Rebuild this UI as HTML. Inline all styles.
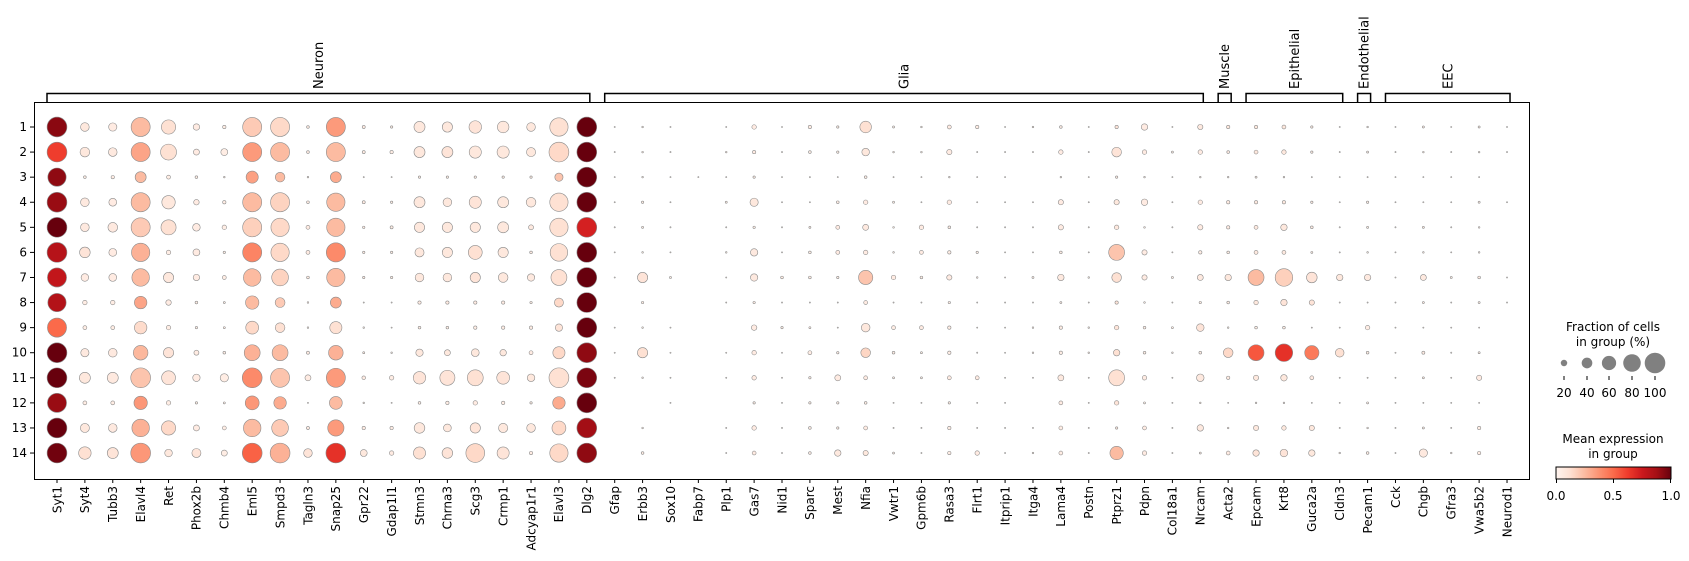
<!DOCTYPE html>
<html><head><meta charset="utf-8"><style>
html,body{margin:0;padding:0;background:#fff;}
svg{display:block;font-family:"DejaVu Sans","Liberation Sans",sans-serif;}
</style></head><body>
<svg id="chart" width="1689" height="561" viewBox="0 0 1689 561" xmlns="http://www.w3.org/2000/svg">
<defs><linearGradient id="reds" x1="0" x2="1" y1="0" y2="0">
<stop offset="0" stop-color="#fff5f0"/><stop offset="0.125" stop-color="#fee0d2"/><stop offset="0.25" stop-color="#fcbba1"/><stop offset="0.375" stop-color="#fc9272"/><stop offset="0.5" stop-color="#fb6a4a"/><stop offset="0.625" stop-color="#ef3b2c"/><stop offset="0.75" stop-color="#cb181d"/><stop offset="0.875" stop-color="#a50f15"/><stop offset="1" stop-color="#67000d"/></linearGradient></defs>
<g id="plot"></g>
<g id="legend">
<text x="1613" y="331" font-size="12" text-anchor="middle">Fraction of cells</text>
<text x="1613" y="346" font-size="12" text-anchor="middle">in group (%)</text>
<text x="1613" y="443" font-size="12" text-anchor="middle">Mean expression</text>
<text x="1613" y="458" font-size="12" text-anchor="middle">in group</text>
<rect x="1556" y="467" width="115" height="12" fill="url(#reds)" stroke="#000" stroke-width="1"/>
<g font-size="12" text-anchor="middle">
<line x1="1556.5" y1="479" x2="1556.5" y2="483" stroke="#000"/><text x="1556" y="500">0.0</text>
<line x1="1613.5" y1="479" x2="1613.5" y2="483" stroke="#000"/><text x="1613" y="500">0.5</text>
<line x1="1670.5" y1="479" x2="1670.5" y2="483" stroke="#000"/><text x="1671" y="500">1.0</text>
</g>
<g id="sizeLegend"></g>
</g>
</svg>
<script>
const groups = ["1","2","3","4","5","6","7","8","9","10","11","12","13","14"];
const genes = ["Syt1","Syt4","Tubb3","Elavl4","Ret","Phox2b","Chmb4","Eml5","Smpd3","Tagln3","Snap25","Gpr22","Gdap1l1","Stmn3","Chrna3","Scg3","Crmp1","Adcyap1r1","Elavl3","Dlg2","Gfap","Erbb3","Sox10","Fabp7","Plp1","Gas7","Nid1","Sparc","Mest","Nfia","Vwtr1","Gpm6b","Rasa3","Flrt1","Itprip1","Itga4","Lama4","Postn","Ptprz1","Pdpn","Col18a1","Nrcam","Acta2","Epcam","Krt8","Guca2a","Cldn3","Pecam1","Cck","Chgb","Gfra3","Vwa5b2","Neurod1"];
const geneGroupNames = ["Neuron","Glia","Muscle","Epithelial","Endothelial","EEC"];
const geneGroupStart = [0,20,42,43,47,48];
const geneGroupEnd = [19,41,42,46,47,52];
const sizeLegendValues = [20,40,60,80,100];
// fraction of cells (0-1), one array per gene, rows = groups 1..14
const fraction = [
[.95,.95,.85,.95,.95,.95,.9,.85,.9,.95,.95,.9,.95,.95],
[.3,.35,.06,.3,.3,.4,.25,.12,.1,.28,.42,.1,.32,.5],
[.28,.3,.08,.26,.35,.26,.26,.12,.1,.3,.42,.1,.3,.42],
[.9,.9,.42,.9,.9,.85,.8,.5,.5,.62,.95,.55,.8,.95],
[.6,.7,.1,.55,.65,.12,.38,.16,.12,.38,.58,.12,.6,.25],
[.2,.18,.06,.16,.25,.22,.2,.06,.05,.14,.24,.05,.18,.32],
[.08,.22,.03,.08,.12,.05,.1,.04,.04,.06,.28,.04,.1,.18],
[.9,.9,.48,.9,.9,.9,.8,.55,.52,.7,.95,.58,.8,.95],
[.9,.9,.35,.9,.85,.85,.75,.36,.35,.7,.9,.5,.75,.95],
[.06,.06,.03,.06,.1,.1,.06,.03,.03,.07,.18,.01,.07,.3],
[.9,.9,.42,.85,.85,.9,.85,.42,.48,.62,.9,.52,.72,.95],
[.07,.07,.02,.07,.05,.05,.05,.02,.03,.04,.09,.03,.08,.22],
[.05,.08,.01,.05,.07,.05,.05,.01,.01,.03,.12,.02,.08,.12],
[.42,.42,.05,.42,.38,.32,.3,.08,.06,.24,.5,.06,.4,.48],
[.38,.42,.05,.3,.38,.38,.3,.08,.06,.18,.65,.08,.26,.4],
[.5,.48,.05,.48,.38,.58,.38,.08,.08,.26,.7,.12,.38,.88],
[.45,.48,.05,.42,.42,.38,.35,.08,.08,.2,.52,.08,.33,.48],
[.3,.32,.05,.35,.14,.06,.24,.05,.08,.1,.25,.05,.3,.08],
[.85,.95,.28,.85,.85,.8,.7,.32,.24,.48,.95,.5,.58,.85],
[.95,.95,.95,.95,.95,.95,.95,.95,.95,.95,.95,.95,.95,.95],
[.005,.005,.005,.005,.01,.01,.005,0,.01,.01,.02,0,0,0],
[.03,.03,.03,.05,.04,.03,.38,.05,.03,.38,.03,0,.03,.06],
[.01,.02,.01,.005,.01,.005,.04,0,.01,.01,.01,.01,0,0],
[0,0,.005,0,0,0,0,0,0,0,0,0,0,0],
[.01,.03,.005,.04,.005,.03,.01,.005,0,.005,.005,0,.005,.01],
[.12,.08,.05,.28,.05,.24,.24,.05,.16,.12,.12,.05,.12,.1],
[.02,.01,.01,.005,.005,.005,.06,.005,.05,.01,.005,.005,.01,.02],
[.08,.06,.02,.02,.04,.06,.06,.01,.04,.1,.05,.05,.06,.06],
[.05,.05,.01,.06,.1,.1,.05,.01,.02,.05,.18,.05,.05,.2],
[.45,.25,.06,.12,.18,.12,.6,.1,.3,.35,.1,.06,.1,.15],
[.04,.03,.02,.04,.03,.03,.12,.01,.1,.06,.04,.02,.02,.04],
[.03,.03,.01,.01,.12,.1,.06,.01,.1,.04,.04,.01,.01,.01],
[.1,.15,.03,.12,.06,.08,.15,.05,.08,.08,.1,.05,.08,.08],
[.08,.01,.01,.02,.02,.05,.03,.01,.01,.02,.1,.01,.01,.12],
[.005,.005,.005,.005,.005,.005,.005,.005,.005,.005,.005,.005,.005,.005],
[.03,.01,0,.01,.01,.005,.04,.005,.03,.03,.01,0,.01,.03],
[.06,.12,.03,.15,.15,.06,.2,.04,.08,.08,.18,.1,.1,.1],
[.005,.01,.005,.005,.005,.005,.03,.005,.03,.03,.005,.005,.005,.02],
[.08,.35,.05,.15,.12,.7,.35,.08,.12,.2,.7,.12,.05,.55],
[.2,.12,.03,.2,.03,.15,.15,.03,.06,.06,.12,.04,.1,.12],
[.01,.04,.005,.01,.01,.01,.04,.01,.04,.03,.02,.005,.01,.02],
[.15,.12,.03,.12,.15,.08,.18,.05,.25,.06,.25,.03,.2,.04],
[.08,.06,.03,.08,.08,.06,.2,.06,.03,.35,.08,.02,.03,.1],
[.08,.1,.04,.08,.1,.1,.7,.12,.06,.7,.15,.03,.15,.2],
[.1,.12,.03,.08,.2,.1,.8,.2,.06,.8,.2,.03,.12,.25],
[.05,.05,.02,.05,.06,.04,.4,.15,.02,.6,.1,.01,.15,.2],
[.01,.01,.01,.02,.02,.02,.2,.02,.005,.3,.02,.005,.02,.03],
[.03,.04,.02,.05,.04,.03,.2,.015,.12,.06,.02,.04,.03,.06],
[.005,.005,.005,.005,.005,.005,.005,.005,.005,.005,.005,.005,.005,.005],
[.04,.03,.005,.02,.04,.03,.18,.04,.02,.07,.04,.01,.04,.28],
[.02,.02,.005,.01,.02,.01,.04,.02,.02,.02,.01,.005,.005,.03],
[.04,.03,.005,.04,.03,.03,.06,.04,.01,.04,.15,.01,.08,.08],
[.005,.005,0,.005,0,0,.01,.01,0,0,0,0,0,0]
];
// mean expression (0-1), one array per gene
const expression = [
[.93,.62,.92,.9,1,.82,.78,.83,.5,1,1,.9,1,.98],
[.08,.08,.05,.07,.07,.1,.06,.05,.05,.07,.08,.05,.08,.12],
[.06,.07,.05,.06,.07,.06,.06,.05,.05,.07,.07,.05,.07,.1],
[.25,.32,.25,.25,.2,.28,.25,.32,.14,.26,.22,.36,.28,.36],
[.12,.12,.05,.08,.12,.05,.08,.06,.05,.1,.1,.05,.15,.08],
[.06,.06,.05,.06,.06,.06,.06,.05,.05,.06,.06,.05,.06,.1],
[.05,.05,.05,.05,.05,.05,.05,.05,.05,.05,.05,.05,.05,.05],
[.2,.35,.33,.25,.18,.42,.25,.25,.15,.28,.4,.36,.25,.52],
[.15,.25,.25,.17,.15,.15,.17,.2,.12,.25,.22,.3,.2,.28],
[.06,.06,.05,.06,.06,.06,.06,.05,.05,.06,.06,.05,.06,.1],
[.35,.25,.3,.25,.25,.4,.25,.3,.12,.28,.35,.25,.35,.66],
[.06,.06,.05,.06,.06,.06,.06,.05,.05,.06,.06,.05,.06,.08],
[.05,.05,.05,.05,.05,.05,.05,.05,.05,.05,.05,.05,.05,.06],
[.08,.08,.05,.08,.08,.08,.08,.06,.05,.08,.1,.05,.08,.12],
[.08,.1,.05,.08,.08,.08,.08,.06,.05,.08,.1,.05,.08,.1],
[.1,.08,.05,.1,.08,.12,.1,.06,.05,.08,.12,.06,.1,.15],
[.08,.08,.05,.08,.08,.08,.08,.06,.05,.08,.1,.05,.08,.1],
[.08,.08,.05,.08,.07,.06,.07,.05,.05,.06,.08,.05,.08,.06],
[.12,.15,.22,.12,.12,.12,.12,.15,.1,.15,.12,.3,.15,.15],
[1,1,1,1,.72,1,1,1,1,.92,.96,1,.88,.92],
[.05,.05,.05,.05,.05,.05,.05,.05,.05,.05,.05,.05,.05,.05],
[.05,.05,.05,.05,.05,.05,.1,.05,.05,.12,.05,.05,.05,.05],
[.05,.05,.05,.05,.05,.05,.05,.05,.05,.05,.05,.05,.05,.05],
[.05,.05,.05,.05,.05,.05,.05,.05,.05,.05,.05,.05,.05,.05],
[.05,.05,.05,.05,.05,.05,.05,.05,.05,.05,.05,.05,.05,.05],
[.06,.06,.05,.08,.05,.07,.07,.05,.06,.06,.06,.05,.06,.06],
[.05,.05,.05,.05,.05,.05,.05,.05,.05,.05,.05,.05,.05,.05],
[.05,.05,.05,.05,.05,.05,.05,.05,.05,.05,.05,.05,.05,.05],
[.05,.05,.05,.05,.06,.06,.05,.05,.05,.05,.06,.05,.05,.07],
[.12,.08,.05,.06,.07,.06,.22,.06,.08,.16,.06,.05,.06,.08],
[.05,.05,.05,.05,.05,.05,.06,.05,.05,.05,.05,.05,.05,.05],
[.05,.05,.05,.05,.06,.06,.05,.05,.06,.05,.05,.05,.05,.05],
[.06,.06,.05,.06,.05,.05,.06,.05,.05,.05,.06,.05,.05,.05],
[.05,.05,.05,.05,.05,.05,.05,.05,.05,.05,.06,.05,.05,.06],
[.05,.05,.05,.05,.05,.05,.05,.05,.05,.05,.05,.05,.05,.05],
[.05,.05,.05,.05,.05,.05,.05,.05,.05,.05,.05,.05,.05,.05],
[.05,.06,.05,.06,.06,.05,.07,.05,.05,.05,.07,.06,.05,.05],
[.05,.05,.05,.05,.05,.05,.05,.05,.05,.05,.05,.05,.05,.05],
[.1,.1,.06,.08,.08,.22,.12,.1,.1,.12,.12,.1,.08,.25],
[.06,.06,.05,.06,.05,.06,.06,.05,.05,.05,.06,.05,.06,.06],
[.05,.05,.05,.05,.05,.05,.05,.05,.05,.05,.05,.05,.05,.05],
[.07,.06,.05,.06,.06,.05,.07,.05,.1,.05,.07,.05,.07,.05],
[.08,.06,.05,.06,.06,.05,.08,.05,.05,.15,.06,.05,.05,.06],
[.08,.08,.05,.07,.07,.07,.25,.08,.05,.55,.08,.05,.08,.1],
[.08,.08,.05,.07,.08,.07,.18,.1,.05,.66,.08,.05,.08,.1],
[.06,.06,.05,.06,.06,.05,.1,.1,.05,.45,.06,.05,.08,.08],
[.05,.05,.05,.05,.05,.05,.08,.05,.05,.12,.05,.05,.05,.05],
[.05,.05,.05,.05,.05,.05,.07,.05,.05,.05,.05,.05,.05,.05],
[.05,.05,.05,.05,.05,.05,.05,.05,.05,.05,.05,.05,.05,.05],
[.06,.06,.05,.06,.06,.06,.07,.06,.05,.06,.06,.05,.06,.07],
[.05,.05,.05,.05,.05,.05,.05,.05,.05,.05,.05,.05,.05,.05],
[.05,.05,.05,.05,.05,.05,.06,.05,.05,.05,.06,.05,.05,.06],
[.05,.05,.05,.05,.05,.05,.05,.05,.05,.05,.05,.05,.05,.05]
];

const NS = "http://www.w3.org/2000/svg";
const plot = document.getElementById("plot");
const PL = 34, PT = 102, PR = 1529, PB = 479;
const X0 = 57, DX = 27.885, Y0 = 127, DY = 25.08;
function xScale(i){ return X0 + i * DX; }
function yScale(j){ return Y0 + j * DY; }
function rScale(f){ return 10.3 * Math.pow(f, 0.72); }
const stops = [[255,245,240],[254,224,210],[252,187,161],[252,146,114],[251,106,74],[239,59,44],[203,24,29],[165,15,21],[103,0,13]];
function reds(v){
  v = Math.max(0, Math.min(1, v)) * 8;
  const i = Math.min(7, Math.floor(v)), t = v - i;
  const a = stops[i], b = stops[i + 1];
  return "rgb(" + a.map((c, k) => Math.round(c + (b[k] - c) * t)).join(",") + ")";
}
function mk(tag, attrs, parent){
  const e = document.createElementNS(NS, tag);
  for (const k in attrs) e.setAttribute(k, attrs[k]);
  parent.appendChild(e);
  return e;
}

// frame
const frame = mk("rect", {x: PL + 0.5, y: PT + 0.5, width: PR - PL, height: PB - PT, fill: "none", stroke: "#000", "stroke-width": 1}, plot);



// dots
genes.forEach((g, i) => {
  groups.forEach((grp, j) => {
    const f = fraction[i][j];
    if (!(f > 0)) return;
    const c = mk("circle", {cx: xScale(i), cy: yScale(j), r: Math.max(0.6, rScale(f)), fill: reds(expression[i][j]), stroke: "#8c8c8c", "stroke-width": 0.6}, plot);
    
    
  });
});

// y ticks
groups.forEach((grp, j) => {
  const y = yScale(j);
  mk("line", {x1: PL - 4, x2: PL, y1: y, y2: y, stroke: "#000"}, plot);
  const t = mk("text", {x: PL - 7, y: y + 4, "font-size": 12, "text-anchor": "end"}, plot);
  t.textContent = grp;
  
  
});

// x ticks
genes.forEach((g, i) => {
  const x = xScale(i);
  mk("line", {x1: x, x2: x, y1: PB, y2: PB + 4, stroke: "#000"}, plot);
  const t = mk("text", {x: 0, y: 0, "font-size": 12, "text-anchor": "end", transform: "translate(" + (x + 4.3) + "," + (PB + 7) + ") rotate(-90)"}, plot);
  t.textContent = g;
  
  
});

// group brackets
geneGroupNames.forEach((name, k) => {
  const x1 = xScale(geneGroupStart[k]) - 10, x2 = xScale(geneGroupEnd[k]) + 3;
  const p = mk("path", {d: "M" + x1 + "," + PT + " V93.5 H" + x2 + " V" + PT, fill: "none", stroke: "#000", "stroke-width": 1.5}, plot);
  
  
  const cx = (x1 + x2) / 2;
  const t = mk("text", {x: 0, y: 0, "font-size": 13, "text-anchor": "start", transform: "translate(" + (cx + 4.5) + ",89) rotate(-90)"}, plot);
  t.textContent = name;
  
  
});

// size legend
const sl = document.getElementById("sizeLegend");
const slX = [1564, 1587, 1609, 1632, 1655];
sizeLegendValues.forEach((v, k) => {
  const c = mk("circle", {cx: slX[k], cy: 363, r: rScale(v / 100), fill: "#808080"}, sl);
  
  
  mk("line", {x1: slX[k], x2: slX[k], y1: 376, y2: 380, stroke: "#000"}, sl);
  const t = mk("text", {x: slX[k], y: 397, "font-size": 12, "text-anchor": "middle"}, sl);
  t.textContent = v;
  
  
});
</script>
</body></html>
